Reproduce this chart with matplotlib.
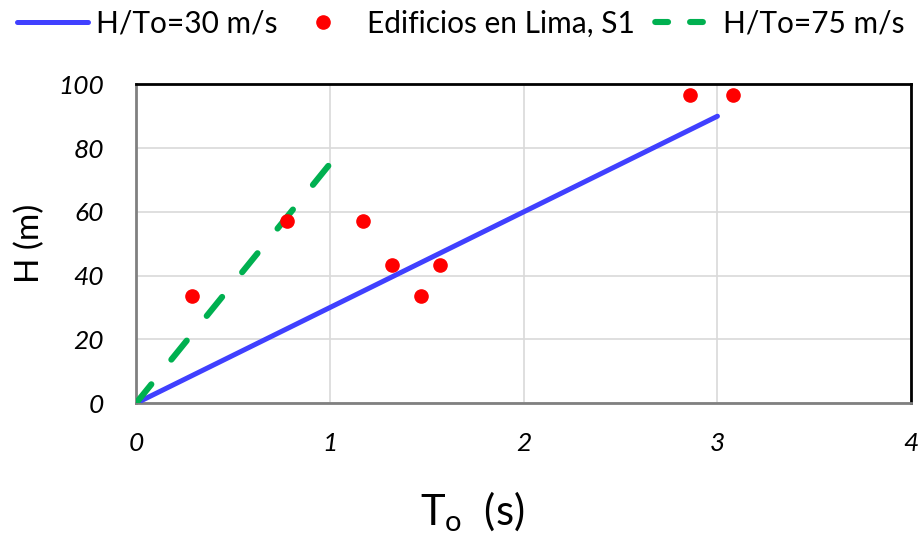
import numpy as np
import matplotlib.pyplot as plt
from matplotlib.lines import Line2D

# Period vs height data
t_edificios = [0.29, 0.78, 1.17, 1.32, 1.57, 1.47, 2.86, 3.08]
h_edificios = [33.5, 57.0, 57.0, 43.3, 43.3, 33.5, 96.5, 96.5]

t_30 = [0.0, 3.0]
h_30 = [0.0, 90.0]
t_75 = [0.0, 1.0]
h_75 = [0.0, 75.0]

x_ticks = [0, 1, 2, 3, 4]
y_ticks = [0, 20, 40, 60, 80, 100]

plt.rcParams['font.family'] = ['Lato', 'DejaVu Sans']

fig = plt.figure(figsize=(9.23, 5.37), dpi=100)
ax = fig.add_axes([0.1473, 0.249, 0.84, 0.594])

l1, = ax.plot(t_30, h_30, color='#4040FF', lw=3.6, solid_capstyle='round',
              label='H/To=30 m/s', zorder=3)
p1, = ax.plot(t_edificios, h_edificios, 'o', color='#FF0000', ms=9.5,
              label='Edificios en Lima, S1', zorder=4)
ax.plot(t_75, h_75, color='#00B050', lw=4.4, dashes=(4.0, 5.2),
        dash_capstyle='round', zorder=3)

# shorter dash pattern for the legend swatch
l2 = Line2D([], [], color='#00B050', lw=4.4, linestyle=(3.7, (2.1, 3.6)),
            dash_capstyle='round', label='H/To=75 m/s')

ax.set_xlim(0, 4)
ax.set_ylim(0, 100)
ax.set_xticks(x_ticks)
ax.set_yticks(y_ticks)
ax.grid(True, color='#D9D9D9', lw=1.2)
ax.set_axisbelow(True)
ax.tick_params(length=0, labelsize=19)
ax.tick_params(axis='x', pad=21)
ax.tick_params(axis='y', pad=23)
for lab in ax.get_xticklabels() + ax.get_yticklabels():
    lab.set_fontstyle('italic')

for side in ['top', 'right']:
    ax.spines[side].set_color('black')
    ax.spines[side].set_linewidth(2)
for side in ['left', 'bottom']:
    ax.spines[side].set_color('#808080')
    ax.spines[side].set_linewidth(2)

ax.set_xlabel(r'T$_\mathregular{o}$  (s)', fontsize=30)
ax.xaxis.set_label_coords(0.434, -0.27)
ax.set_ylabel('H (m)', fontsize=24)
ax.yaxis.set_label_coords(-0.117, 0.5)

fig.legend(handles=[l1, p1, l2], loc='center', bbox_to_anchor=(0.499, 0.956),
           ncol=3, frameon=False, fontsize=21.5, handlelength=2.4,
           handletextpad=0.27, columnspacing=0.3)

fig.savefig('out.png', dpi=100)
